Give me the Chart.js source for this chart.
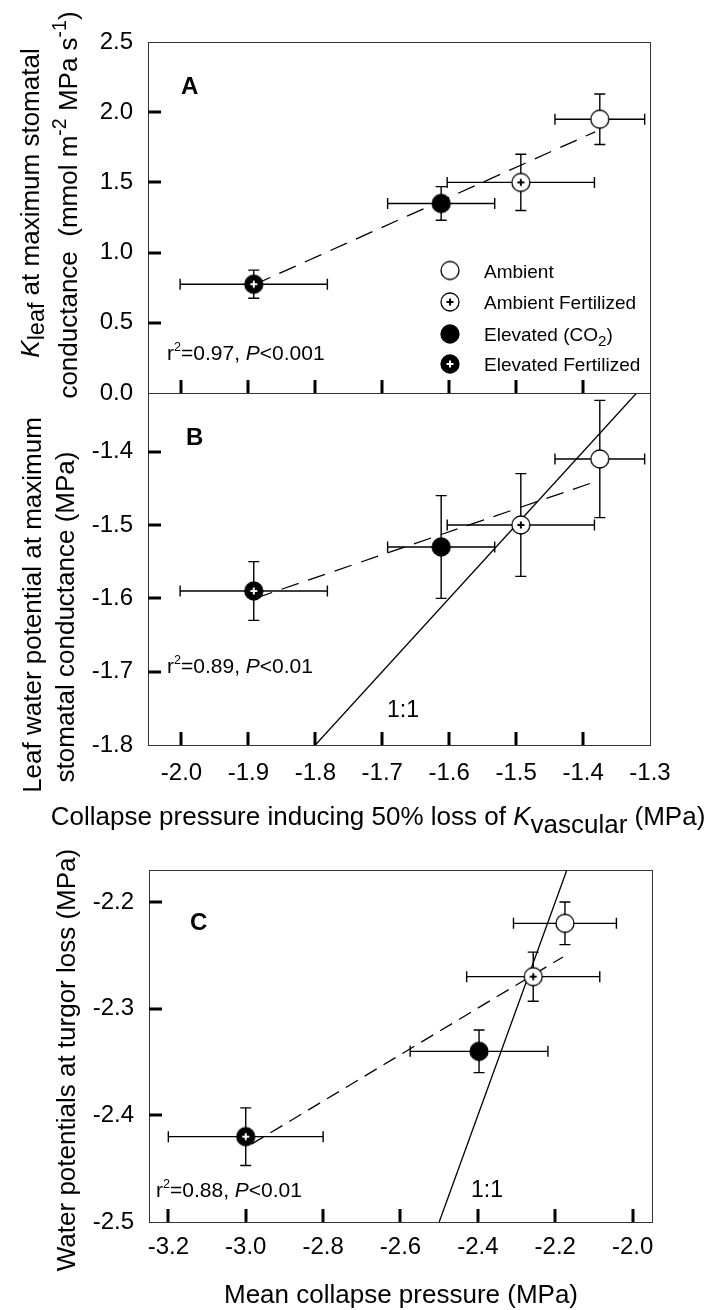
<!DOCTYPE html>
<html>
<head>
<meta charset="utf-8">
<script src="https://cdn.jsdelivr.net/npm/chart.js@4.4.0/dist/chart.umd.min.js"></script>
<style>
  html, body { margin: 0; padding: 0; background: #fff; }
  #wrap { position: relative; width: 716px; height: 1310px; overflow: hidden; }
  #wrap canvas { position: absolute; left: 0; top: 0; }
</style>
</head>
<body>
<div id="wrap">
  <canvas id="chartA" width="716" height="1310"></canvas>
  <canvas id="chartB" width="716" height="1310"></canvas>
  <canvas id="chartC" width="716" height="1310"></canvas>
</div>
<script>
// treatments, same order in every panel
var groups = ['Ambient', 'Ambient Fertilized', 'Elevated (CO2)', 'Elevated Fertilized'];
var markerKind = ['open', 'openPlus', 'filled', 'filledPlus'];

// panels A and B: collapse pressure inducing 50% loss of Kvascular (MPa)
var collapseX = [-1.375, -1.493, -1.612, -1.892];
var collapseXErr = [0.067, 0.11, 0.08, 0.11];
// panel A: Kleaf at maximum stomatal conductance
var kleafY = [1.95, 1.50, 1.35, 0.775];
var kleafYErr = [0.18, 0.20, 0.12, 0.10];
// panel B: leaf water potential at maximum stomatal conductance
var psiLeafY = [-1.41, -1.50, -1.53, -1.59];
var psiLeafYErr = [0.08, 0.07, 0.07, 0.04];
// panel C: mean collapse pressure vs water potential at turgor loss
var meanCollapseX = [-2.175, -2.257, -2.397, -3.0];
var meanCollapseXErr = [0.133, 0.172, 0.178, 0.20];
var turgorY = [-2.22, -2.27, -2.34, -2.42];
var turgorYErr = [0.02, 0.023, 0.02, 0.027];

// regression lines (end points) and 1:1 lines
var fitAx = [-1.892, -1.382], fitAy = [0.77, 1.86];
var fitBx = [-1.89, -1.382], fitBy = [-1.60, -1.441];
var fitCx = [-2.985, -2.18], fitCy = [-2.427, -2.2515];
var oneToOneB = [-1.8, -1.32];
var oneToOneC = [-2.5, -2.17];

// ticks
var xTicksAB = [-2.0, -1.9, -1.8, -1.7, -1.6, -1.5, -1.4, -1.3];
var yTicksA = [0, 0.5, 1.0, 1.5, 2.0, 2.5];
var yTicksB = [-1.8, -1.7, -1.6, -1.5, -1.4];
var xTicksC = [-3.2, -3.0, -2.8, -2.6, -2.4, -2.2, -2.0];
var yTicksC = [-2.5, -2.4, -2.3, -2.2];

var FONT = '"Liberation Sans", Arial, sans-serif';
Chart.defaults.font.family = FONT;
Chart.defaults.color = '#000';

//marker images
function makeMarker(kind, r) {
    var c = document.createElement('canvas');
    var s = 22, m = 11;
    c.width = s; c.height = s;
    var g = c.getContext('2d');
    g.beginPath();
    g.arc(m, m, r, 0, Math.PI * 2);
    g.fillStyle = (kind == 'filled' || kind == 'filledPlus') ? '#000' : '#fff';
    g.fill();
    g.lineWidth = 1.3;
    g.strokeStyle = '#000';
    g.stroke();
    if (kind == 'openPlus' || kind == 'filledPlus') {
        g.strokeStyle = kind == 'openPlus' ? '#000' : '#fff';
        g.lineWidth = 2;
        g.beginPath();
        g.moveTo(m - 3.5, m); g.lineTo(m + 3.5, m);
        g.moveTo(m, m - 3.5); g.lineTo(m, m + 3.5);
        g.stroke();
    }
    return c;
}
var markers = markerKind.map(function (k) { return makeMarker(k, 9); });

function pointSets(xs, ys) {
    return groups.map(function (g, i) {
        return { label: g, data: [{ x: xs[i], y: ys[i] }], pointStyle: markers[i], pointRadius: 9, order: 0 };
    });
}
function lineSet(xs, ys, dash) {
    return {
        type: 'line', data: xs.map(function (x, i) { return { x: x, y: ys[i] }; }),
        borderColor: '#000', borderWidth: 1.3, borderDash: dash || [], pointRadius: 0,
        fill: false, tension: 0, order: 2
    };
}

//rich text: parts [{t, it, b, s (size factor), dy (em offset)}]
function fontFor(p, size) {
    return (p.it ? 'italic ' : '') + (p.b ? 'bold ' : '') + (size * (p.s || 1)).toFixed(1) + 'px ' + FONT;
}
function richText(ctx, parts, x, y, size, align) {
    var widths = [], total = 0;
    parts.forEach(function (p) {
        ctx.font = fontFor(p, size);
        var w = ctx.measureText(p.t).width;
        widths.push(w); total += w;
    });
    var cx = align == 'center' ? x - total / 2 : (align == 'right' ? x - total : x);
    ctx.textAlign = 'left';
    ctx.textBaseline = 'alphabetic';
    ctx.fillStyle = '#000';
    parts.forEach(function (p, i) {
        ctx.font = fontFor(p, size);
        ctx.fillText(p.t, cx, y + (p.dy || 0) * size);
        cx += widths[i];
    });
}
function rotatedText(ctx, parts, bx, cy, size) {
    ctx.save();
    ctx.translate(bx, cy);
    ctx.rotate(-Math.PI / 2);
    richText(ctx, parts, 0, 0, size, 'center');
    ctx.restore();
}

//error bars under the markers
function errorBarPlugin(xs, ys, ex, ey) {
    return {
        id: 'errorBars',
        beforeDatasetsDraw: function (chart) {
            var ctx = chart.ctx, sx = chart.scales.x, sy = chart.scales.y, cap = 5.5;
            ctx.save();
            ctx.strokeStyle = '#000';
            ctx.lineWidth = 1.4;
            for (var i = 0; i < xs.length; i++) {
                var px = sx.getPixelForValue(xs[i]), py = sy.getPixelForValue(ys[i]);
                var x0 = sx.getPixelForValue(xs[i] - ex[i]), x1 = sx.getPixelForValue(xs[i] + ex[i]);
                var y0 = sy.getPixelForValue(ys[i] - ey[i]), y1 = sy.getPixelForValue(ys[i] + ey[i]);
                ctx.beginPath();
                ctx.moveTo(x0, py); ctx.lineTo(x1, py);
                ctx.moveTo(x0, py - cap); ctx.lineTo(x0, py + cap);
                ctx.moveTo(x1, py - cap); ctx.lineTo(x1, py + cap);
                ctx.moveTo(px, y0); ctx.lineTo(px, y1);
                ctx.moveTo(px - cap, y0); ctx.lineTo(px + cap, y0);
                ctx.moveTo(px - cap, y1); ctx.lineTo(px + cap, y1);
                ctx.stroke();
            }
            ctx.restore();
        }
    };
}

//frame, inward ticks, then panel texts
function decorPlugin(xTicks, yTicks, drawTexts) {
    return {
        id: 'decor',
        afterDraw: function (chart) {
            var ctx = chart.ctx, a = chart.chartArea, sx = chart.scales.x, sy = chart.scales.y;
            ctx.save();
            ctx.strokeStyle = '#333';
            ctx.lineWidth = 1;
            ctx.strokeRect(Math.round(a.left) + 0.5, Math.round(a.top) + 0.5,
                Math.round(a.right - a.left), Math.round(a.bottom - a.top));
            ctx.fillStyle = '#000';
            xTicks.forEach(function (v) {
                var px = sx.getPixelForValue(v);
                if (px - a.left < 3 || a.right - px < 3) return;
                ctx.fillRect(Math.round(px) - 1.5, a.bottom - 13, 3, 13);
            });
            yTicks.forEach(function (v) {
                var py = sy.getPixelForValue(v);
                if (py - a.top < 3 || a.bottom - py < 3) return;
                ctx.fillRect(a.left, Math.round(py) - 1.5, 13, 3);
            });
            drawTexts(ctx, chart);
            ctx.restore();
        }
    };
}

function makeChart(id, p) {
    return new Chart(document.getElementById(id), {
        type: 'scatter',
        data: { datasets: pointSets(p.xs, p.ys).concat(p.lines) },
        options: {
            responsive: false,
            animation: false,
            events: [],
            layout: { padding: p.padding },
            plugins: { legend: { display: false }, tooltip: { enabled: false } },
            scales: {
                x: {
                    type: 'linear', min: p.xMin, max: p.xMax, display: p.xLabels,
                    grid: { display: false, drawTicks: false }, border: { display: false },
                    afterBuildTicks: function (s) { s.ticks = p.xTicks.map(function (v) { return { value: v }; }); },
                    afterFit: function (s) { s.height = p.xLabels ? 60 : 0; },
                    ticks: { padding: p.xPad, autoSkip: false, maxRotation: 0, font: { size: 24 },
                        callback: function (v) { return v.toFixed(1); } }
                },
                y: {
                    type: 'linear', min: p.yMin, max: p.yMax,
                    grid: { display: false, drawTicks: false }, border: { display: false },
                    afterBuildTicks: function (s) { s.ticks = p.yTicks.map(function (v) { return { value: v }; }); },
                    afterFit: function (s) { s.width = p.left; },
                    ticks: { padding: 15, autoSkip: false, font: { size: 24 },
                        callback: function (v) { return v.toFixed(1); } }
                }
            }
        },
        plugins: [errorBarPlugin(p.xs, p.ys, p.ex, p.ey), decorPlugin(p.xTicks, p.yTicks, p.texts)]
    });
}

function rSquared(ctx, r2, pText, x, y) {
    richText(ctx, [{ t: 'r' }, { t: '2', s: 0.6, dy: -0.45 }, { t: '=' + r2 + ', ' }, { t: 'P', it: true }, { t: pText }], x, y, 21, 'left');
}

// Panel A
makeChart('chartA', {
    xs: collapseX, ys: kleafY, ex: collapseXErr, ey: kleafYErr,
    lines: [lineSet(fitAx, fitAy, [18, 10])],
    xMin: -2.05, xMax: -1.3, yMin: 0, yMax: 2.5, xTicks: xTicksAB, yTicks: yTicksA,
    xLabels: false, xPad: 15, left: 148,
    padding: { left: 0, top: 42, right: 66, bottom: 917 },
    texts: function (ctx) {
        richText(ctx, [{ t: 'A', b: true }], 181, 94, 24, 'left');
        rSquared(ctx, '0.97', '<0.001', 167, 360);
        var rows = [270.5, 302, 334, 364];
        var labels = [[{ t: 'Ambient' }], [{ t: 'Ambient Fertilized' }],
            [{ t: 'Elevated (CO' }, { t: '2', s: 0.8, dy: 0.25 }, { t: ')' }], [{ t: 'Elevated Fertilized' }]];
        rows.forEach(function (ry, i) {
            ctx.drawImage(markers[i], 450 - 11, ry - 11);
            richText(ctx, labels[i], 484, ry + 7, 19, 'left');
        });
        rotatedText(ctx, [{ t: 'K', it: true }, { t: 'leaf', s: 0.9, dy: 0.2 }, { t: ' at maximum stomatal' }], 39, 203, 26);
        rotatedText(ctx, [{ t: 'conductance  (mmol m' }, { t: '-2', s: 0.75, dy: -0.42 }, { t: ' MPa s' },
            { t: '-1', s: 0.75, dy: -0.42 }, { t: ')' }], 77, 205, 26);
    }
});

// Panel B
makeChart('chartB', {
    xs: collapseX, ys: psiLeafY, ex: collapseXErr, ey: psiLeafYErr,
    lines: [lineSet(fitBx, fitBy, [18, 10]), lineSet(oneToOneB, oneToOneB)],
    xMin: -2.05, xMax: -1.3, yMin: -1.8, yMax: -1.32, xTicks: xTicksAB, yTicks: yTicksB,
    xLabels: true, xPad: 14, left: 148,
    padding: { left: 0, top: 393, right: 66, bottom: 505 },
    texts: function (ctx) {
        richText(ctx, [{ t: 'B', b: true }], 186, 445, 24, 'left');
        rSquared(ctx, '0.89', '<0.01', 167, 673);
        richText(ctx, [{ t: '1:1' }], 403, 717, 23, 'center');
        rotatedText(ctx, [{ t: 'Leaf water potential at maximum' }], 41, 605, 26);
        rotatedText(ctx, [{ t: 'stomatal conductance (MPa)' }], 74, 617, 26);
        richText(ctx, [{ t: 'Collapse pressure inducing 50% loss of ' }, { t: 'K', it: true },
            { t: 'vascular', dy: 0.3 }, { t: ' (MPa)' }], 378, 825, 26, 'center');
    }
});

// Panel C
makeChart('chartC', {
    xs: meanCollapseX, ys: turgorY, ex: meanCollapseXErr, ey: turgorYErr,
    lines: [lineSet(fitCx, fitCy, [14, 8]), lineSet(oneToOneC, oneToOneC)],
    xMin: -3.25, xMax: -1.95, yMin: -2.5, yMax: -2.17, xTicks: xTicksC, yTicks: yTicksC,
    xLabels: true, xPad: 11, left: 149,
    padding: { left: 0, top: 870, right: 64, bottom: 28 },
    texts: function (ctx) {
        richText(ctx, [{ t: 'C', b: true }], 190, 930, 24, 'left');
        rSquared(ctx, '0.88', '<0.01', 156, 1197);
        richText(ctx, [{ t: '1:1' }], 487, 1197, 23, 'center');
        rotatedText(ctx, [{ t: 'Water potentials at turgor loss (MPa)' }], 75, 1060, 26);
        richText(ctx, [{ t: 'Mean collapse pressure (MPa)' }], 401, 1303, 26, 'center');
    }
});
</script>
</body>
</html>
